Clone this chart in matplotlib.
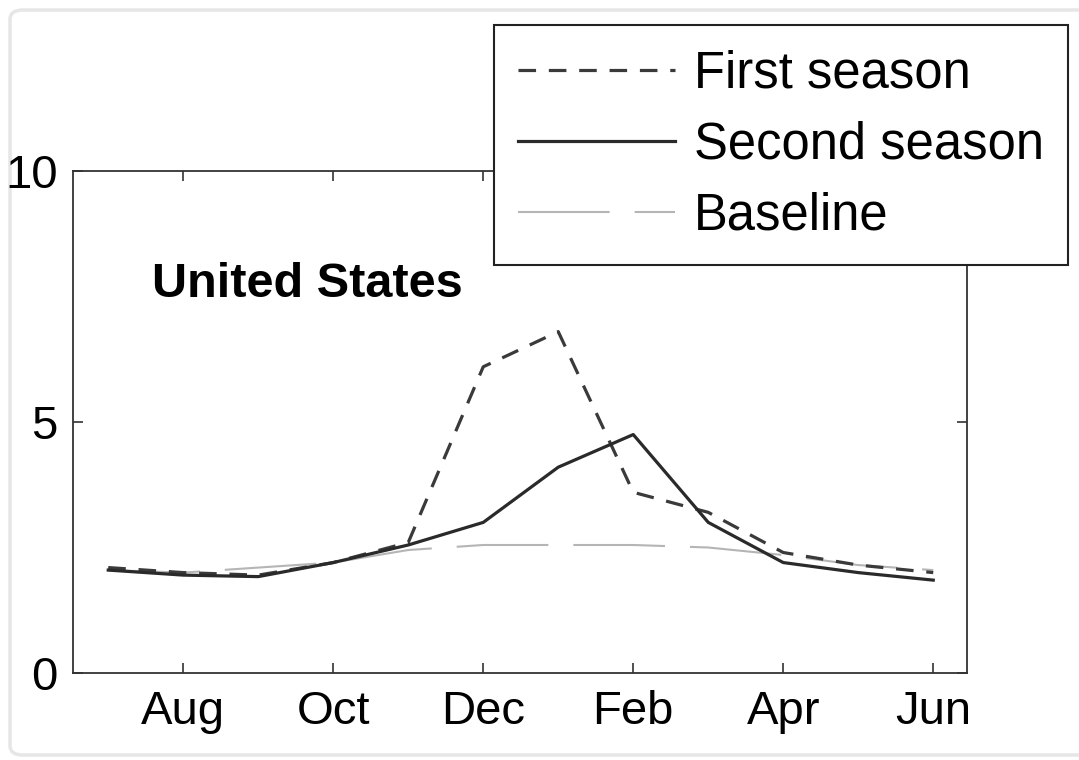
import matplotlib.pyplot as plt
from matplotlib.lines import Line2D
from matplotlib.patches import FancyBboxPatch

plt.rcParams['font.family'] = ['Liberation Sans', 'DejaVu Sans']

months = ['Jul', 'Aug', 'Sep', 'Oct', 'Nov', 'Dec', 'Jan', 'Feb', 'Mar', 'Apr', 'May', 'Jun']
first_season = [2.1, 2.0, 1.95, 2.2, 2.6, 6.1, 6.8, 3.6, 3.2, 2.4, 2.15, 2.0]
second_season = [2.05, 1.95, 1.92, 2.2, 2.55, 3.0, 4.1, 4.75, 3.0, 2.2, 2.0, 1.85]
baseline = [2.05, 2.0, 2.1, 2.2, 2.45, 2.55, 2.55, 2.55, 2.5, 2.35, 2.15, 2.05]
tick_months = months[1::2]

x = list(range(len(months)))

fig = plt.figure(figsize=(10.79, 7.6), dpi=100)
ax = fig.add_axes([73 / 1079, 1 - 673 / 760, (967 - 73) / 1079, (673 - 171) / 760])

ax.plot(x, baseline, color='#b5b5b5', lw=1.5, linestyle=(0, (44, 12)), label='Baseline')
ax.plot(x, first_season, color='#3a3a3a', lw=2.3, linestyle=(0, (5.5, 4)), label='First season')
ax.plot(x, second_season, color='#2a2a2a', lw=2.3, label='Second season')

ax.set_xlim(-0.47, 11.45)
ax.set_ylim(0, 10)
ax.set_xticks(x[1::2])
ax.set_xticklabels(tick_months)
ax.set_yticks([0, 5, 10])

for sp in ax.spines.values():
    sp.set_color('#333333')
    sp.set_linewidth(1.3)
ax.tick_params(direction='in', length=7, width=1.2, color='#333333',
               top=True, right=True, labelsize=34)
ax.tick_params(axis='x', pad=12)
ax.tick_params(axis='y', pad=11)

ax.text(0.088, 0.749, 'United States', transform=ax.transAxes,
        fontsize=35, fontweight='bold', va='baseline', ha='left')

handles = [
    Line2D([], [], color='#3a3a3a', lw=2.3, linestyle=(0, (5.5, 4))),
    Line2D([], [], color='#2a2a2a', lw=2.3),
    Line2D([], [], color='#b5b5b5', lw=1.5, linestyle=(0, (44, 12))),
]
leg = fig.legend(handles, ['First season', 'Second season', 'Baseline'],
                 loc='upper right', bbox_to_anchor=(1068 / 1079, 1 - 25 / 760),
                 bbox_transform=fig.transFigure, borderaxespad=0,
                 fontsize=36.5, handlelength=3.1, handletextpad=0.36,
                 labelspacing=0.44, borderpad=0.48, fancybox=False, framealpha=1)
leg.get_frame().set_edgecolor('#222222')
leg.get_frame().set_linewidth(1.5)

# faint rounded frame around the figure, open on the right
frame = FancyBboxPatch((10 / 1079, 5 / 760), 1.2, 745 / 760,
                       boxstyle='round,pad=0,rounding_size=0.012',
                       transform=fig.transFigure, facecolor='none',
                       edgecolor='#e6e6e6', lw=2.5, zorder=-1)
fig.add_artist(frame)

fig.savefig('out.png', dpi=100)
